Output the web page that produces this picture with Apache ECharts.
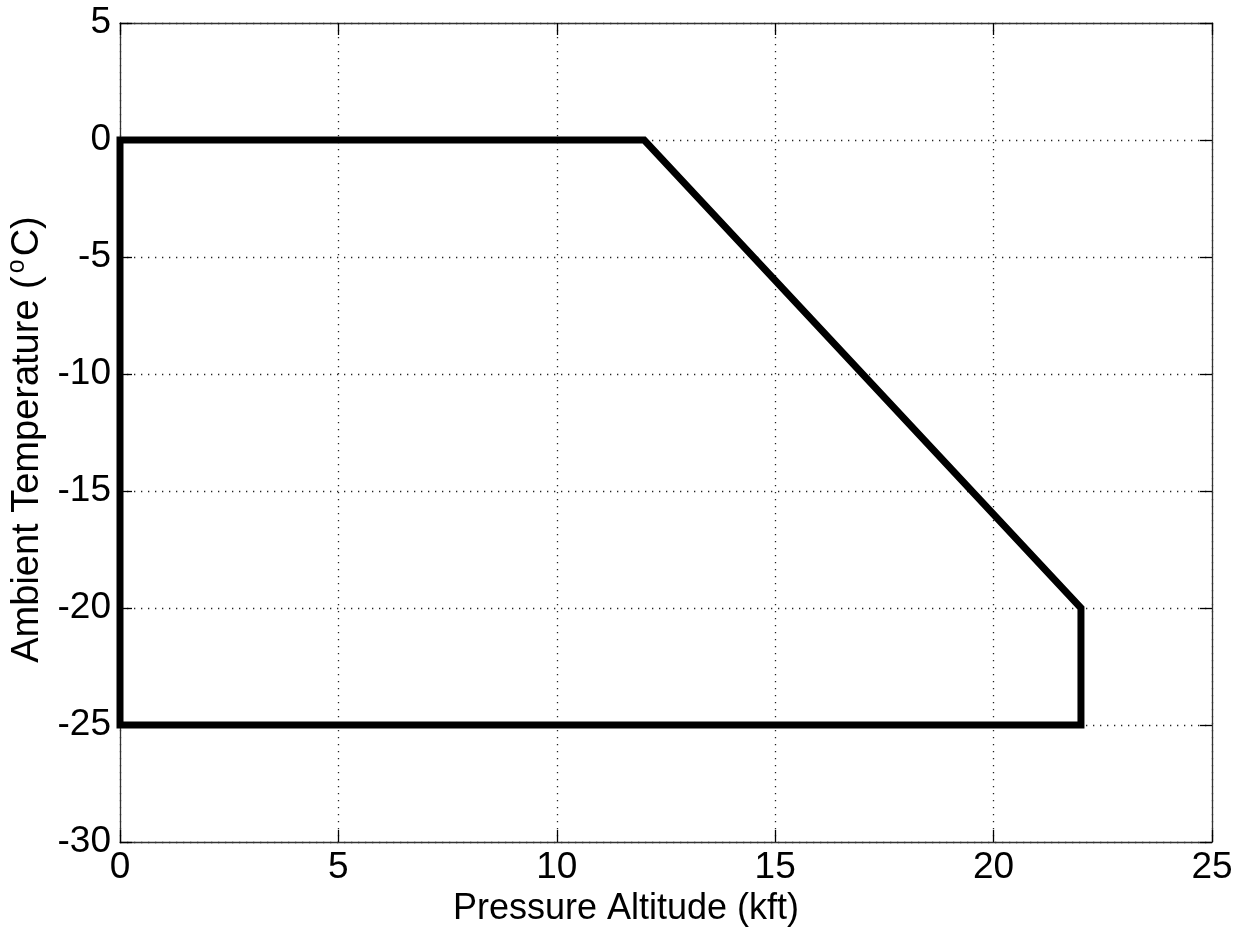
<!DOCTYPE html>
<html>
<head>
<meta charset="utf-8">
<script src="https://cdn.jsdelivr.net/npm/echarts@6/dist/echarts.min.js"></script>
<style>
html,body{margin:0;padding:0;background:#fff;}
#chart{width:1236px;height:935px;}
</style>
</head>
<body>
<div id="chart"></div>
<script>
// Data
var altitudeKft = [0, 0, 12, 22, 22, 0];
var temperatureC = [-25, 0, 0, -20, -25, -25];
var xTicks = [0, 5, 10, 15, 20, 25];
var yTicks = [-30, -25, -20, -15, -10, -5, 0, 5];
var xTitle = 'Pressure Altitude (kft)';
var yTitleParts = ['Ambient Temperature (', 'o', 'C)'];

var points = altitudeKft.map(function (x, i) { return [x, temperatureC[i]]; });

var FONT = '"Liberation Sans", Arial, Helvetica, sans-serif';
var FS = 37;
var axisColor = '#333';

function baseAxis(extra) {
  return Object.assign({
    type: 'value',
    axisLine: { show: true, onZero: false, lineStyle: { color: axisColor, width: 1.3 } },
    axisTick: { show: true, inside: true, length: 12, lineStyle: { color: '#000', width: 1.3 } },
    splitLine: { show: false },
    axisLabel: { show: false }
  }, extra);
}

var chart = echarts.init(document.getElementById('chart'), null, { renderer: 'canvas' });
chart.setOption({
  backgroundColor: '#fff',
  animation: false,
  grid: { left: 120, top: 23, right: 24, bottom: 93, containLabel: false, outerBoundsMode: 'none' },
  xAxis: [
    baseAxis({
      position: 'bottom',
      min: xTicks[0], max: xTicks[xTicks.length - 1], interval: 5,
      name: xTitle,
      nameLocation: 'middle',
      nameGap: 23,
      nameTextStyle: { fontFamily: FONT, fontSize: 36, color: '#000', verticalAlign: 'top', padding: [0, 80, 0, 0] },
      axisLabel: { show: true, margin: 7, fontFamily: FONT, fontSize: FS, color: '#000' },
      splitLine: { show: true, lineStyle: { color: '#222', width: 1.3, type: [1.3, 5.7] } }
    }),
    baseAxis({
      position: 'top',
      min: xTicks[0], max: xTicks[xTicks.length - 1], interval: 5
    })
  ],
  yAxis: [
    baseAxis({
      position: 'left',
      min: yTicks[0], max: yTicks[yTicks.length - 1], interval: 5,
      name: '{t|' + yTitleParts[0] + '}{s|' + yTitleParts[1] + '}{t|' + yTitleParts[2] + '}',
      nameLocation: 'middle',
      nameRotate: 90,
      nameGap: 64,
      nameTextStyle: {
        fontFamily: FONT, color: '#000',
        padding: [0, 14, 0, 0],
        rich: {
          t: { fontFamily: FONT, fontSize: 38, color: '#000', lineHeight: 42, verticalAlign: 'bottom' },
          s: { fontFamily: FONT, fontSize: 25, color: '#000', lineHeight: 42, verticalAlign: 'bottom', padding: [0, 3, 17, 3] }
        }
      },
      axisLabel: { show: true, margin: 9, fontFamily: FONT, fontSize: FS, color: '#000' },
      splitLine: { show: true, lineStyle: { color: '#222', width: 1.3, type: [1.3, 5.7] } }
    }),
    baseAxis({
      position: 'right',
      min: yTicks[0], max: yTicks[yTicks.length - 1], interval: 5
    })
  ],
  series: [{
    type: 'line',
    data: points,
    xAxisIndex: 0,
    yAxisIndex: 0,
    showSymbol: false,
    symbol: 'none',
    lineStyle: { color: '#000', width: 7, join: 'miter', cap: 'square' },
    z: 5
  }]
});
</script>
</body>
</html>
